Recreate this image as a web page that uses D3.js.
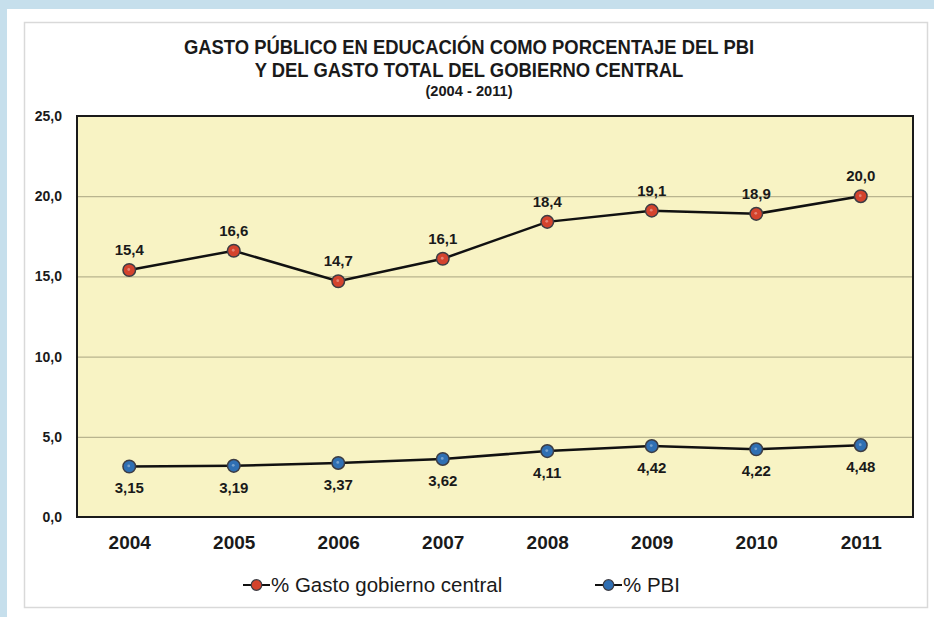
<!DOCTYPE html>
<html>
<head>
<meta charset="utf-8">
<script src="https://cdn.jsdelivr.net/npm/d3@7"></script>
<style>
  html, body { margin: 0; padding: 0; background: #c6dfec; }
  svg { display: block; font-family: "Liberation Sans", Arial, sans-serif; }
</style>
</head>
<body>
<div id="chart"></div>
<script>
"use strict"

// chart data
var years = ["2004", "2005", "2006", "2007", "2008", "2009", "2010", "2011"];
var gastoGobierno = [15.4, 16.6, 14.7, 16.1, 18.4, 19.1, 18.9, 20.0];
var gastoPbi = [3.15, 3.19, 3.37, 3.62, 4.11, 4.42, 4.22, 4.48];
var yTicks = [0, 5, 10, 15, 20, 25];
var seriesNames = ["% Gasto gobierno central", "% PBI"];

var width = 934, height = 617;
var margin = {top: 116, right: 21, bottom: 100, left: 77};

var svg = d3.select("#chart").append("svg")
    .attr("width", width)
    .attr("height", height);

// white page and framed chart area
svg.append("rect").attr("x", 7).attr("y", 9).attr("width", width - 7).attr("height", height - 9)
    .attr("fill", "#ffffff");
svg.append("rect").attr("x", 24.5).attr("y", 22.5).attr("width", 903).attr("height", 585)
    .attr("fill", "#ffffff").attr("stroke", "#d9d9d9").attr("stroke-width", 1.5);

// title (slightly condensed, like the original)
var title = svg.append("g").attr("font-weight", "bold").attr("fill", "#1a1a1a").attr("text-anchor", "middle")
    .attr("transform", "translate(469,0) scale(0.945,1) translate(-469,0)");
title.append("text").attr("x", 469).attr("y", 54).attr("font-size", 19.5)
    .text("GASTO PÚBLICO EN EDUCACIÓN COMO PORCENTAJE DEL PBI");
title.append("text").attr("x", 469).attr("y", 77).attr("font-size", 19.5)
    .text("Y DEL GASTO TOTAL DEL GOBIERNO CENTRAL");
title.append("text").attr("x", 469).attr("y", 96).attr("font-size", 15.5)
    .text("(2004 - 2011)");

var plotW = width - margin.left - margin.right,
    plotH = height - margin.top - margin.bottom;

var plot = svg.append("g").attr("transform", "translate(" + margin.left + "," + margin.top + ")");

var x = d3.scalePoint().domain(years).range([0, plotW]).padding(0.5);
var y = d3.scaleLinear().domain([0, 25]).range([plotH, 0]);

// plot background
plot.append("rect").attr("width", plotW).attr("height", plotH).attr("fill", "#f8f3c4");

// gridlines
plot.append("g")
    .call(d3.axisLeft(y).tickValues(yTicks.slice(1, -1)).tickSize(-plotW).tickFormat(""))
    .call(function(g) { g.select(".domain").remove(); })
    .selectAll("line").attr("stroke", "#b9b48e").attr("stroke-width", 1.2);

// plot border
plot.append("rect").attr("width", plotW).attr("height", plotH)
    .attr("fill", "none").attr("stroke", "#1a1a1a").attr("stroke-width", 2);

// y axis labels
var fmt = function(d, n) { return d3.format("." + n + "f")(d).replace(".", ","); };
plot.append("g")
    .call(d3.axisLeft(y).tickValues(yTicks).tickSize(0).tickPadding(15).tickFormat(function(d) { return fmt(d, 1); }))
    .call(function(g) { g.select(".domain").remove(); })
    .selectAll("text")
      .attr("font-family", "Liberation Sans, Arial, sans-serif")
      .attr("font-size", 14).attr("font-weight", "bold").attr("fill", "#1a1a1a");

// x axis labels
plot.append("g").attr("transform", "translate(0," + plotH + ")")
    .call(d3.axisBottom(x).tickSize(0).tickPadding(19))
    .call(function(g) { g.select(".domain").remove(); })
    .selectAll("text")
      .attr("font-family", "Liberation Sans, Arial, sans-serif")
      .attr("font-size", 19).attr("font-weight", "bold").attr("fill", "#1a1a1a");

var line = d3.line()
    .x(function(d, i) { return x(years[i]); })
    .y(function(d) { return y(d); });

var series = [
  {values: gastoGobierno, fill: "#d4432d", label: function(d) { return fmt(d, 1); }, dy: -15},
  {values: gastoPbi, fill: "#2f6fb3", label: function(d) { return fmt(d, 2); }, dy: 27}
];

series.forEach(function(s) {
  plot.append("path").datum(s.values)
      .attr("d", line)
      .attr("fill", "none")
      .attr("stroke", "#111111")
      .attr("stroke-width", 2.5);
  var pts = plot.append("g").selectAll("g").data(s.values).enter().append("g")
      .attr("transform", function(d, i) { return "translate(" + x(years[i]) + "," + y(d) + ")"; });
  pts.append("circle").attr("r", 6.3)
      .attr("fill", s.fill).attr("stroke", "#3d3d44").attr("stroke-width", 1.5);
  pts.append("circle").attr("r", 1.4).attr("cx", -0.5).attr("cy", -0.5)
      .attr("fill", "#ffffff").attr("opacity", 0.35);
  pts.append("text").attr("y", s.dy).attr("text-anchor", "middle")
      .attr("font-size", 15).attr("font-weight", "bold").attr("fill", "#1a1a1a")
      .text(s.label);
});

// legend
var legend = svg.append("g").attr("transform", "translate(0,585)");
var legendX = [242, 594];
seriesNames.forEach(function(name, i) {
  var item = legend.append("g").attr("transform", "translate(" + legendX[i] + ",0)");
  item.append("line").attr("x1", 1).attr("x2", 28).attr("y1", 0).attr("y2", 0)
      .attr("stroke", "#111111").attr("stroke-width", 2);
  item.append("circle").attr("cx", 14.5).attr("cy", 0).attr("r", 5.3)
      .attr("fill", series[i].fill).attr("stroke", "#3d3d44").attr("stroke-width", 1.2);
  item.append("text").attr("x", 29).attr("y", 7)
      .attr("font-size", 20.5).attr("fill", "#1a1a1a")
      .text(name);
});
</script>
</body>
</html>
